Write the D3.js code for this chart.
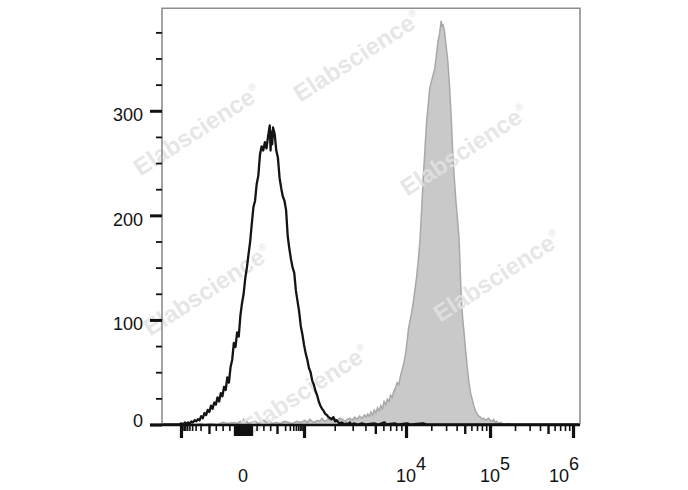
<!DOCTYPE html>
<html><head><meta charset="utf-8">
<script src="https://cdn.jsdelivr.net/npm/d3@7"></script>
<style>body{margin:0;background:#fff;} svg{display:block;font-family:Arial,"Liberation Sans",sans-serif;}</style>
</head><body><svg id="c" width="688" height="490"></svg>
<script>
// ---- data (x in channel units 0..1024, y = events per channel) ----
const blackSeries = [[0,0],[20,0],[40,0],[48,1],[52,0],[56,2],[60,1],[64,2],[68,1],[72,3],[76,2],[80,4],[84,3],[88,5],[92,4],[96,8],[100,6],[104,11],[108,9],[112,14],[116,12],[120,18],[124,15],[128,21],[132,19],[136,26],[140,22],[144,30],[148,27],[152,36],[156,33],[160,45],[164,40],[168,55],[172,62],[176,78],[180,74],[184,88],[188,84],[192,104],[196,116],[200,125],[204,140],[208,150],[212,163],[216,175],[220,192],[224,208],[228,214],[232,230],[236,238],[240,258],[244,266],[248,262],[252,270],[256,264],[260,276],[264,286],[266,262],[268,280],[270,268],[272,284],[276,278],[280,262],[284,255],[288,236],[292,226],[296,218],[300,214],[304,205],[308,180],[312,168],[316,158],[320,150],[324,145],[328,128],[332,118],[336,108],[340,94],[344,86],[348,76],[352,68],[356,62],[360,54],[364,50],[368,42],[372,38],[376,32],[380,28],[384,22],[388,18],[392,15],[396,13],[400,10],[404,9],[408,7],[412,6],[416,5],[420,7],[424,3],[428,4],[432,2],[436,1],[440,2],[444,1],[448,0],[452,1],[456,0],[460,2],[464,0],[470,1],[480,0],[490,1],[500,0],[520,1],[530,0],[545,2],[550,0],[570,1],[580,0],[600,1],[610,0],[640,1],[650,0],[700,0],[1024,0]];
const greySeries = [[0,0],[40,0],[56,1],[64,0],[72,1],[80,0],[96,1],[104,0],[120,1],[136,0],[150,2],[160,1],[176,2],[184,1],[192,3],[196,2],[200,5],[204,2],[208,3],[212,1],[220,2],[228,3],[236,1],[244,2],[250,4],[256,2],[262,3],[270,1],[280,2],[290,1],[300,3],[310,2],[320,1],[330,3],[340,2],[350,4],[356,2],[362,5],[368,3],[374,2],[380,4],[386,3],[392,6],[396,4],[400,3],[406,5],[412,4],[418,7],[424,5],[430,4],[436,6],[442,5],[448,3],[454,5],[460,6],[466,4],[472,7],[478,5],[484,8],[490,6],[496,9],[500,7],[504,10],[508,8],[512,12],[516,9],[520,14],[524,11],[528,16],[532,13],[536,18],[540,15],[544,22],[548,19],[552,24],[556,22],[560,28],[564,26],[568,32],[572,35],[576,40],[580,38],[584,46],[588,52],[592,58],[596,66],[600,78],[604,92],[608,100],[612,108],[616,118],[620,130],[624,142],[628,158],[632,176],[636,205],[640,236],[644,262],[648,288],[652,305],[656,322],[660,328],[664,334],[668,340],[672,352],[676,366],[680,374],[684,386],[686,380],[688,383],[692,376],[696,362],[700,348],[704,326],[708,298],[712,262],[716,236],[720,214],[724,196],[728,176],[732,132],[736,104],[740,88],[744,70],[748,54],[752,40],[756,30],[760,24],[764,18],[768,13],[772,10],[776,8],[780,7],[784,5],[788,6],[792,4],[796,5],[800,6],[804,4],[808,3],[812,5],[816,2],[820,3],[824,1],[830,2],[836,0],[850,1],[860,0],[1024,0]];

const yMajorTicks = [0,100,200,300];
const yMinorTicks = [25,50,75,125,150,175,225,250,275,325,350,375];
const xLabelValues = [0,1e4,1e5,1e6];
const xLabelBase = ["0","10","10","10"];
const xLabelExp = ["","4","5","6"];
const xMajorTicks = [-1000,1000,1e4,1e5,1e6];
const xMediumTicks = [-100,100,5e3,5e4,5e5];
const xMinorTicks = [-900,-800,-700,-600,-500,-400,-300,-200,-80,-60,-40,-20,20,40,60,80,
  200,300,400,500,600,700,800,900,2e3,3e3,4e3,6e3,7e3,8e3,9e3,
  2e4,3e4,4e4,6e4,7e4,8e4,9e4,2e5,3e5,4e5,6e5,7e5,8e5,9e5];
const xZeroTicks = d3.range(-26,27,2);
const watermark = "Elabscience";

// ---- scales ----
const L=162, R=580, T=8.3, B=424.5;
const x = d3.scaleLinear().domain([0,1024]).range([L,R]);
const y = d3.scaleLinear().domain([0,398]).range([B,T]);
// biexponential display calibration: value -> display decade units -> channel
const tOf = v => Math.abs(v) <= 100 ? v/100 : Math.sign(v)*(1+Math.log10(Math.abs(v)/100));
const chOf = d3.scaleLinear().domain([-2,-1,0,1,2,3,4,5]).range([46.5,115.1,198.4,281.7,347.9,597.8,803.6,1006.9]);
const toCh = v => chOf(tOf(v));

const svg = d3.select("#c");

// grey filled histogram
const area = d3.area().x(d=>x(d[0])).y0(y(0)).y1(d=>y(d[1]));
const line = d3.line().x(d=>x(d[0])).y(d=>y(d[1]));
svg.append("path").datum(greySeries).attr("d",area).attr("fill","#c9c9c9").attr("stroke","none");
svg.append("path").datum(greySeries).attr("d",line).attr("fill","none").attr("stroke","#a8a8a8").attr("stroke-width",1.5);

// watermarks
const wm = [[357,56],[197,130],[464,150],[207,290],[497,276],[305,390]];
const wg = svg.append("g");
wm.forEach(p=>{
  const t = wg.append("text").attr("transform",`translate(${p[0]},${p[1]}) rotate(-33)`)
    .attr("text-anchor","middle").attr("dy","0.35em")
    .attr("font-size",24).attr("font-weight","bold").attr("fill","#e2e2e2").attr("fill-opacity",0.85);
  t.append("tspan").text(watermark);
  t.append("tspan").text("®").attr("font-size",10).attr("dy",-11);
});

// black open histogram
svg.append("path").datum(blackSeries).attr("d",line).attr("fill","none").attr("stroke","#141414").attr("stroke-width",2.3).attr("stroke-linejoin","round");

// frame
svg.append("path").attr("d",`M${L},${B}V${T}H${R}V${B}`).attr("fill","none").attr("stroke","#8e8e8e").attr("stroke-width",1.6);
// x axis line
svg.append("line").attr("x1",150).attr("x2",R).attr("y1",B+0.5).attr("y2",B+0.5).attr("stroke","#111").attr("stroke-width",2.6);

// x ticks
function tickRow(vals,size,w){
  const g = svg.append("g").attr("transform",`translate(0,${B+0.5})`)
    .call(d3.axisBottom(x).tickValues(vals.map(toCh)).tickSize(size).tickSizeOuter(0).tickFormat(""));
  g.select(".domain").remove();
  g.selectAll("line").attr("stroke","#111").attr("stroke-width",w);
}
tickRow(xMinorTicks,6,1.6);
tickRow(xMediumTicks,9,2.4);
tickRow(xZeroTicks,11,1.6);
tickRow(xMajorTicks,13,3.2);

// x labels
xLabelValues.forEach((v,i)=>{
  const px = x(toCh(v));
  const t = svg.append("text").attr("y",482).attr("font-size",18).attr("fill","#111");
  const b = t.append("tspan").text(xLabelBase[i]);
  if (xLabelExp[i]) t.append("tspan").text(xLabelExp[i]).attr("dy",-12);
  const bw = b.node().getComputedTextLength();
  const tw = t.node().getComputedTextLength();
  let x0 = px - bw/2;
  if (x0 + tw > R - 1) x0 = R - 1 - tw;
  t.attr("x",x0);
});

// y axis
const ga = svg.append("g").attr("transform",`translate(${L},0)`)
  .call(d3.axisLeft(y).tickValues(yMinorTicks).tickSize(6).tickFormat(""));
ga.select(".domain").remove();
ga.selectAll("line").attr("stroke","#111").attr("stroke-width",1.8);
const gm = svg.append("g").attr("transform",`translate(${L},0)`)
  .call(d3.axisLeft(y).tickValues(yMajorTicks).tickSize(12).tickPadding(7).tickFormat(d3.format("d")));
gm.select(".domain").remove();
gm.selectAll("line").attr("stroke","#111").attr("stroke-width",3);
// labels sit slightly below their tick, but never below the axis line
gm.selectAll("text").attr("font-size",18).attr("fill","#111")
  .attr("font-family","Arial,'Liberation Sans',sans-serif")
  .attr("dy",null).attr("dominant-baseline","middle")
  .attr("y",d=>Math.min(5, B - 3 - y(d)));
</script></body></html>
